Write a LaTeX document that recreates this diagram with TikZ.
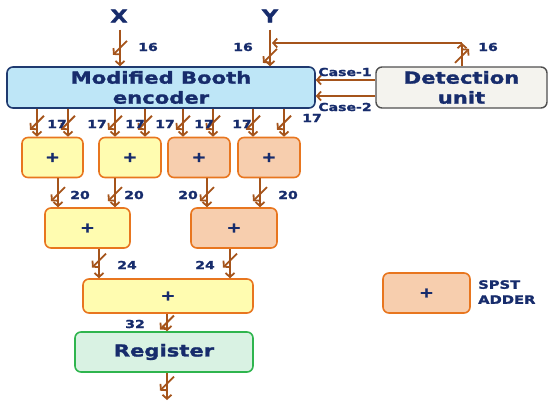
\documentclass[tikz,border=0pt]{standalone}
\usepackage{fontspec}
\setmainfont{DejaVu Sans}
\newfontfamily\bfont{DejaVu Sans Bold}[FakeStretch=1.28,FakeBold=1.6]
\usetikzlibrary{arrows.meta,decorations.markings}
\definecolor{navy}{HTML}{172C6C}
\definecolor{wirec}{HTML}{A5541B}
\definecolor{encfill}{HTML}{BEE6F7}
\definecolor{encdraw}{HTML}{1F3A70}
\definecolor{detfill}{HTML}{F4F3EE}
\definecolor{detdraw}{HTML}{505050}
\definecolor{yel}{HTML}{FFFCB0}
\definecolor{peach}{HTML}{F7CEAE}
\definecolor{orng}{HTML}{E8761F}
\definecolor{regfill}{HTML}{D9F2E3}
\definecolor{regdraw}{HTML}{2FB54E}
\tikzset{
  wire/.style={draw=wirec, line width=1.8pt, -{Straight Barb[length=4pt,width=9pt]}},
  busmark/.style={postaction=decorate, decoration={markings,
     mark=at position #1 with {\draw[draw=wirec,line width=1.8pt] (-7pt,7pt)--(7pt,-7pt);}}},
  busmark/.default=0.5,
  big/.style={text=navy, font=\bfont\fontsize{16.5}{20}\selectfont, align=center},
  lbl/.style={text=navy, font=\bfont\fontsize{11}{12}\selectfont, inner sep=0pt},
  addbox/.style={draw=orng, line width=1.6pt, rounded corners=6pt, text=navy,
     font=\bfont\fontsize{14}{16}\selectfont, inner sep=0pt},
  yadd/.style={addbox, fill=yel},
  padd/.style={addbox, fill=peach},
}
\begin{document}
\begin{tikzpicture}[x=1pt,y=-1pt]
\useasboundingbox (0,0) rectangle (549,407);
% top labels
\node[big, inner sep=0pt, font=\bfont\fontsize{17.5}{20}\selectfont] (X) at (119,16) {X};
\node[big, inner sep=0pt, font=\bfont\fontsize{17.5}{20}\selectfont] (Y) at (270,16) {Y};
% encoder & detection
\node[big, draw=encdraw, fill=encfill, line width=1.6pt, rounded corners=6pt,
  minimum width=308pt, minimum height=41pt, inner sep=0pt] (enc) at (161,87.5)
  {Modified Booth\\encoder};
\node[big, draw=detdraw, fill=detfill, line width=1.4pt, rounded corners=6pt,
  minimum width=171pt, minimum height=41pt, inner sep=0pt] (det) at (461.5,87.5)
  {Detection\\unit};
% inputs
\draw[wire, busmark=0.5] ([yshift=-7pt]X.south -| 120,0) -- (enc.north -| 120,0);
\draw[wire, busmark=0.72] ([yshift=-7pt]Y.south) -- (enc.north -| Y.south);
\node[lbl] at (148,47) {16};
\node[lbl] at (243,47) {16};
% feedback
\coordinate (fb) at (462,43);
\draw[wire, busmark=0.45] (det.north -| fb) -- (fb);
\draw[wire] (fb) -- (fb -| 272,0);
\node[lbl] at (488,47) {16};
% case arrows
\draw[wire] (det.west |- 0,80) -- (enc.east |- 0,80);
\draw[wire] (det.west |- 0,96) -- (enc.east |- 0,96);
\node[lbl] at (345,72) {Case-1};
\node[lbl] at (345,107) {Case-2};
% level 1 adders
\node[yadd, minimum width=61pt, minimum height=40pt] (b1) at (52.5,157.5) {+};
\node[yadd, minimum width=62pt, minimum height=40pt] (b2) at (130,157.5) {+};
\node[padd, minimum width=62pt, minimum height=40pt] (b3) at (199,157.5) {+};
\node[padd, minimum width=62pt, minimum height=40pt] (b4) at (269,157.5) {+};
\foreach \xx/\bb in {37/b1,68/b1,115/b2,145/b2,183/b3,213/b3,253/b4,284/b4}
  \draw[wire, busmark=0.5] (enc.south -| \xx,0) -- (\bb.north -| \xx,0);
\foreach \xx/\yy in {57/124,97/124,135/124,165/124,204/124,242/124,312/118}
  \node[lbl] at (\xx,\yy) {17};
% level 2 adders
\node[yadd, minimum width=85pt, minimum height=40pt] (b5) at (87.5,228) {+};
\node[padd, minimum width=86pt, minimum height=40pt] (b6) at (234,228) {+};
\draw[wire, busmark=0.55] (b1.south -| 58,0) -- (b5.north -| 58,0);
\draw[wire, busmark=0.55] (b2.south -| 115,0) -- (b5.north -| 115,0);
\draw[wire, busmark=0.55] (b3.south -| 207,0) -- (b6.north -| 207,0);
\draw[wire, busmark=0.55] (b4.south -| 260,0) -- (b6.north -| 260,0);
\node[lbl] at (80,195) {20};
\node[lbl] at (134,195) {20};
\node[lbl] at (188,195) {20};
\node[lbl] at (288,195) {20};
% final adder
\node[yadd, minimum width=170pt, minimum height=34pt] (b7) at (168,296) {+};
\draw[wire, busmark=0.4] (b5.south -| 99,0) -- (b7.north -| 99,0);
\draw[wire, busmark=0.4] (b6.south -| 230,0) -- (b7.north -| 230,0);
\node[lbl] at (127,265) {24};
\node[lbl] at (205,265) {24};
% register
\node[big, draw=regdraw, fill=regfill, line width=1.6pt, rounded corners=6pt,
  minimum width=178pt, minimum height=40pt, inner sep=0pt] (reg) at (164,352) {Register};
\draw[wire, busmark=0.5] (b7.south -| 167,0) -- (reg.north -| 167,0);
\node[lbl] at (135,324) {32};
\coordinate (out) at (167,400);
\draw[wire, busmark=0.4] (reg.south -| out) -- (out);
% legend
\node[padd, minimum width=87pt, minimum height=40pt] (leg) at (426.5,293) {+};
\node[lbl, anchor=west, align=left, font=\bfont\fontsize{11.5}{15}\selectfont] (legt) at (478,292) {SPST\\ADDER};
\end{tikzpicture}
\end{document}
